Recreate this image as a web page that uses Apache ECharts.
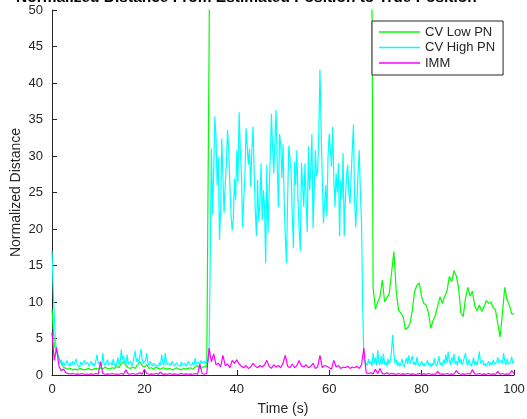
<!DOCTYPE html>
<html>
<head>
<meta charset="utf-8">
<script src="https://cdn.jsdelivr.net/npm/echarts@6/dist/echarts.min.js"></script>
<style>
html,body{margin:0;padding:0;background:#fff;}
#chart{width:527px;height:419px;}
</style>
</head>
<body>
<div id="chart"></div>
<script>
// Time step of each series (seconds)
var cvLowDt = 0.5;
var cvHighDt = 0.25;
var immDt = 0.5;

var xTicks = [0, 20, 40, 60, 80, 100];
var yTicks = [0, 5, 10, 15, 20, 25, 30, 35, 40, 45, 50];

// CV Low PN (sampled every 0.5 s, t = 0 .. 100)
var cvLowPN = [
  9, 4, 3.3, 2.4, 1.5, 1.1, 0.9, 0.8, 0.9, 0.7,
  0.8, 0.7, 0.9, 0.8, 0.7, 0.8, 0.9, 0.7, 0.8, 0.9,
  0.8, 1.0, 0.8, 1.1, 0.9, 0.8, 1.0, 0.9, 1.2, 1.0,
  1.6, 1.8, 1.3, 1.0, 0.9, 1.1, 0.9, 1.4, 1.8, 1.3,
  1.1, 1.4, 0.9, 1.0, 0.8, 1.1, 0.9, 0.8, 1.0, 0.9,
  0.8, 0.9, 0.7, 0.8, 1.0, 0.8, 0.7, 0.9, 0.8, 0.9,
  1.0, 0.8, 1.1, 1.3, 0.9, 1.0, 1.2, 1.1, 45, 95,
  95, 95, 95, 95, 95, 95, 95, 95, 95, 95,
  95, 95, 95, 95, 95, 95, 95, 95, 95, 95,
  95, 95, 95, 95, 95, 95, 95, 95, 95, 95,
  95, 95, 95, 95, 95, 95, 95, 95, 95, 95,
  95, 95, 95, 95, 95, 95, 95, 95, 95, 95,
  95, 95, 95, 95, 95, 95, 95, 95, 95, 95,
  95, 95, 95, 95, 95, 95, 95, 95, 95, 12,
  9.0, 10.0, 10.7, 13, 10, 10.6, 11.2, 14, 16.9, 11.6,
  8.9, 8.5, 8.0, 6.2, 6.5, 7.1, 8.9, 11.5, 12.3, 12.6,
  10.7, 9.8, 9.6, 8.4, 6.4, 7.5, 8.2, 9.5, 10.7, 9.8,
  10.8, 11.5, 13.5, 12.8, 14.3, 13.6, 12, 8.5, 8.0, 10.5,
  12, 10.8, 11.5, 9.5, 8.8, 9.6, 8.7, 9.3, 10.2, 9.8,
  10, 9.2, 8.9, 7.0, 5.2, 8.5, 12, 10.3, 9.6, 8.4,
  8.3
];

// CV High PN (sampled every 0.25 s, t = 0 .. 100)
var cvHighPN = [
  17, 12, 8, 4.5, 3.2, 2.6, 2.2, 1.6, 2.1, 1.4, 1.8, 1.3, 1.6, 2.0, 1.5, 1.2, 1.7, 1.3, 1.9, 1.4,
  1.6, 2.2, 1.3, 1.5, 1.1, 1.8, 1.4, 1.2, 2.0, 1.5, 1.3, 1.7, 1.2, 1.5, 1.9, 1.3, 1.6, 1.2, 1.4, 2.8,
  1.5, 1.3, 1.8, 1.2, 3.0, 1.6, 1.3, 1.5, 2.1, 1.4, 1.2, 1.7, 1.3, 2.2, 1.5, 1.2, 1.6, 2.4, 1.4, 1.8,
  3.5, 2.0, 2.6, 1.7, 1.4, 2.8, 1.5, 1.3, 1.9, 1.2, 1.6, 1.4, 3.3, 1.8, 2.3, 1.5, 1.3, 3.6, 2.2, 1.6,
  1.4, 2.0, 3.0, 1.7, 1.3, 1.9, 1.5, 1.2, 1.6, 1.8, 1.3, 1.5, 1.2, 1.7, 1.4, 2.8, 1.6, 1.3, 3.0, 1.8,
  1.4, 1.2, 1.6, 1.3, 1.9, 1.5, 1.2, 1.4, 1.7, 1.3, 1.5, 1.2, 1.8, 1.4, 1.3, 1.6, 1.2, 1.5, 1.9, 1.4,
  1.6, 1.3, 1.8, 1.4, 2.3, 1.5, 1.3, 1.7, 1.4, 2.0, 1.6, 1.4, 1.9, 1.5, 2.2, 1.8, 3, 16, 31, 22,
  28, 35.4, 32.6, 26, 29.8, 18.5, 22.6, 32.4, 27, 22.2, 26.3, 28.8, 33.6, 30.8, 26, 22, 19.8, 21.4, 26.9, 24,
  30.8, 26.4, 36, 31, 27.6, 20.2, 24, 27.2, 33.8, 33.6, 28.8, 31, 25.8, 30.8, 34, 28, 22.6, 19, 26.7, 21,
  23.5, 29, 21.2, 25.3, 23, 15.3, 28.8, 19.5, 25, 30, 35.8, 31, 27.6, 32, 36.3, 29, 23, 33, 31.6, 27,
  31.6, 24, 19, 15.3, 24, 31.4, 31.6, 27.9, 22, 17.4, 29.2, 26, 30.8, 23.9, 20, 17, 29.1, 26, 23, 29,
  24, 19.6, 31.3, 25.3, 28, 33, 20.1, 25, 30.8, 27.2, 27.9, 33, 41.8, 33.6, 27, 20.8, 23.5, 26, 21.7, 30,
  33, 31, 28.5, 34, 27, 23, 27.6, 25, 29, 19, 26.7, 24, 30.4, 19, 24, 27.2, 28.8, 25, 23.5, 27.2,
  31, 34.3, 23.9, 20.2, 24, 27.6, 30.8, 25, 20.8, 9.4, 2.2, 1.8, 1.6, 1.3, 2.2, 1.5, 1.9, 1.2, 3.0, 1.6,
  2.4, 1.3, 3.4, 1.8, 1.4, 2.6, 1.5, 2.9, 1.4, 1.8, 1.2, 2.2, 1.5, 2.0, 3.4, 5.5, 3.0, 1.6, 2.1, 1.3,
  1.8, 1.2, 1.5, 2.2, 1.4, 1.1, 1.7, 2.4, 1.5, 2.7, 1.6, 2.0, 2.6, 1.4, 1.8, 1.3, 2.5, 1.6, 1.2, 1.5,
  1.9, 1.3, 1.6, 1.2, 1.4, 2.0, 1.3, 1.7, 1.1, 1.6, 1.3, 2.3, 1.5, 1.2, 1.8, 2.6, 1.4, 1.7, 1.2, 2.1,
  1.5, 2.8, 1.6, 3.2, 2.0, 1.4, 2.4, 1.7, 2.9, 1.5, 1.9, 1.3, 2.6, 1.6, 2.2, 1.4, 1.8, 2.0, 3.0, 1.7,
  1.3, 2.1, 1.5, 1.2, 1.7, 2.4, 1.4, 1.9, 1.3, 2.2, 3.2, 1.6, 1.4, 2.0, 1.3, 1.6, 1.2, 1.5, 1.9, 1.3,
  1.7, 1.4, 2.1, 1.5, 1.3, 1.8, 2.4, 1.6, 1.4, 2.0, 1.5, 3.0, 1.9, 1.4, 2.2, 1.5, 1.3, 1.8, 2.5, 1.6,
  1.9
];

// IMM (sampled every 0.5 s, t = 0 .. 100)
var imm = [
  5.8, 2.0, 3.8, 1.2, 0.6, 0.8, 0.3, 0.2, 0.15, 0.2,
  0.1, 0.15, 0.1, 0.2, 0.1, 0.12, 0.1, 0.15, 0.1, 0.2,
  0.1, 1.8, 0.2, 0.1, 0.15, 0.1, 0.2, 0.1, 0.12, 0.1,
  0.2, 0.1, 0.7, 0.15, 0.1, 0.2, 0.1, 0.15, 0.3, 0.1,
  0.8, 0.2, 0.1, 0.15, 0.1, 0.2, 0.1, 0.4, 0.1, 0.15,
  0.1, 0.2, 0.1, 0.15, 0.1, 0.12, 0.2, 0.1, 0.15, 0.1,
  0.15, 0.1, 0.2, 0.1, 1.5, 0.2, 0.1, 0.2, 3.7, 1.8,
  2.9, 1.4, 1.6, 1.1, 2.7, 1.3, 1.5, 1.0, 2.0, 1.6,
  2.1, 1.5, 1.2, 1.0, 1.3, 0.9, 1.1, 1.6, 1.2, 1.0,
  1.3, 1.1, 1.4, 2.0, 1.2, 0.9, 1.4, 1.1, 1.3, 1.0,
  1.6, 2.7, 1.2, 1.0, 1.5, 1.0, 1.3, 2.0, 1.2, 1.1,
  1.4, 1.0, 1.2, 1.6, 0.9, 1.1, 2.7, 1.0, 1.3, 1.2,
  1.0, 0.8, 2.0, 1.1, 1.3, 0.9, 1.1, 1.0, 1.2, 0.9,
  1.1, 1.0, 1.2, 0.9, 1.4, 3.7, 0.3, 0.2, 0.3, 0.15,
  0.8, 0.2, 0.9, 0.2, 0.15, 0.3, 0.1, 0.2, 0.15, 0.1,
  0.2, 0.1, 0.15, 0.1, 0.2, 0.1, 0.15, 0.1, 0.12, 0.2,
  0.1, 0.15, 0.1, 0.2, 0.1, 0.12, 0.1, 0.5, 0.1, 0.15,
  0.1, 0.2, 0.1, 0.15, 0.1, 0.6, 0.2, 0.1, 0.15, 0.1,
  0.2, 0.1, 0.7, 0.15, 0.1, 0.2, 0.1, 0.15, 0.1, 0.2,
  0.1, 0.15, 0.1, 0.5, 0.1, 0.2, 0.1, 0.15, 0.1, 0.6,
  0.2
];

function toPairs(values, dt) {
  return values.map(function (v, i) { return [i * dt, v]; });
}

var FONT = '"Liberation Sans", Arial, Helvetica, sans-serif';
var AX = '#262626';

var chart = echarts.init(document.getElementById('chart'), null, {renderer: 'canvas'});
chart.setOption({
  animation: false,
  backgroundColor: '#ffffff',
  textStyle: {fontFamily: FONT},
  title: {
    text: 'Normalized Distance From Estimated Position to True Position',
    left: 16,
    top: -10,
    padding: 0,
    textStyle: {fontSize: 15.5, fontWeight: 'bold', color: '#000', fontFamily: FONT}
  },
  legend: {
    data: ['CV Low PN', 'CV High PN', 'IMM'],
    orient: 'vertical',
    left: 372,
    top: 21,
    icon: 'rect',
    itemWidth: 41,
    itemHeight: 1.5,
    itemGap: 1.5,
    padding: [4, 8, 5, 7],
    borderColor: AX,
    borderWidth: 1,
    backgroundColor: '#ffffff',
    textStyle: {fontSize: 13, color: AX, fontFamily: FONT, lineHeight: 14}
  },
  grid: {left: 52, right: 13, top: 10, bottom: 44, containLabel: false, outerBoundsMode: 'none'},
  xAxis: {
    type: 'value',
    min: xTicks[0],
    max: xTicks[xTicks.length - 1],
    interval: 20,
    name: 'Time (s)',
    nameLocation: 'middle',
    nameGap: 27,
    nameMoveOverlap: false,
    nameTextStyle: {fontSize: 14, color: AX, fontFamily: FONT},
    axisLine: {show: true, onZero: false, lineStyle: {color: AX, width: 1}},
    axisTick: {show: true, inside: true, length: 5, lineStyle: {color: AX}},
    axisLabel: {fontSize: 13, color: AX, margin: 8, fontFamily: FONT},
    splitLine: {show: false}
  },
  yAxis: {
    type: 'value',
    min: yTicks[0],
    max: yTicks[yTicks.length - 1],
    interval: 5,
    name: 'Normalized Distance',
    nameLocation: 'middle',
    nameGap: 29,
    nameMoveOverlap: false,
    nameTextStyle: {fontSize: 14, color: AX, fontFamily: FONT},
    axisLine: {show: true, onZero: false, lineStyle: {color: AX, width: 1}},
    axisTick: {show: true, inside: true, length: 5, lineStyle: {color: AX}},
    axisLabel: {fontSize: 13, color: AX, margin: 9, fontFamily: FONT},
    splitLine: {show: false}
  },
  series: [
    {
      name: 'CV Low PN', type: 'line', data: toPairs(cvLowPN, cvLowDt),
      showSymbol: false, symbol: 'none', clip: true,
      color: '#00ff00', lineStyle: {color: '#00ff00', width: 1.2}
    },
    {
      name: 'CV High PN', type: 'line', data: toPairs(cvHighPN, cvHighDt),
      showSymbol: false, symbol: 'none', clip: true,
      color: '#00ffff', lineStyle: {color: '#00ffff', width: 1.2}
    },
    {
      name: 'IMM', type: 'line', data: toPairs(imm, immDt),
      showSymbol: false, symbol: 'none', clip: true,
      color: '#ff00ff', lineStyle: {color: '#ff00ff', width: 1.2}
    }
  ]
});
</script>
</body>
</html>
